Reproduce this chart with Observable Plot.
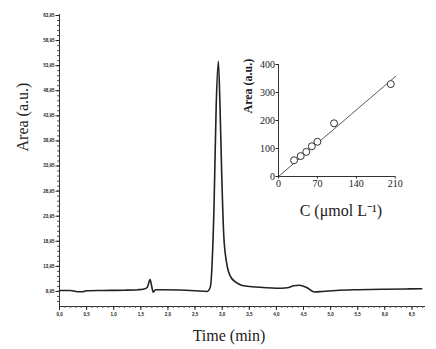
<!DOCTYPE html>
<html><head><meta charset="utf-8">
<script src="https://cdn.jsdelivr.net/npm/d3@7"></script>
<script src="https://cdn.jsdelivr.net/npm/@observablehq/plot@0.6"></script>
<style>
body{margin:0;background:#fff;}
#wrap{position:relative;width:436px;height:349px;overflow:hidden;background:#fff;}
#wrap svg{position:absolute;overflow:visible;}
</style></head><body><div id="wrap"></div>
<script>
// Chromatogram (main chart)
const time   = [0, 0.2, 0.33, 0.42, 0.5, 0.8, 1.2, 1.45, 1.56, 1.62, 1.67, 1.70, 1.73, 1.77, 1.9, 2.2, 2.5, 2.72, 2.78, 2.85, 2.89, 2.93, 2.96, 2.99, 3.03, 3.08, 3.15, 3.25, 3.37, 3.55, 3.75, 4.0, 4.2, 4.32, 4.42, 4.55, 4.7, 4.85, 5.1, 5.5, 6.0, 6.4, 6.68];
const signal = [9.15, 9.15, 8.9, 8.9, 9.1, 9.15, 9.2, 9.3, 9.45, 9.8, 11.3, 10.0, 8.8, 9.3, 9.3, 9.25, 9.1, 8.95, 9.8, 26, 46, 54.8, 46, 33, 20, 14.8, 12.0, 10.8, 10.15, 9.9, 9.75, 9.6, 9.7, 10.1, 10.2, 9.8, 8.85, 8.95, 9.15, 9.3, 9.4, 9.45, 9.5];
const xTickValues = [0, 0.5, 1, 1.5, 2, 2.5, 3, 3.5, 4, 4.5, 5, 5.5, 6, 6.5];
const yTickValues = [8.95, 13.95, 18.95, 23.95, 28.95, 33.95, 38.95, 43.95, 48.95, 53.95, 58.95, 63.95];
const mainXLabel = "Time (min)";
const mainYLabel = "Area (a.u.)";

// Calibration inset
const concentration = [28, 40, 50, 60, 70, 100, 202];
const area = [58, 73, 88, 108, 124, 190, 330];
const fitC = [0, 211];
const fitA = [0, 358];
const insetXTicks = [0, 70, 140, 210];
const insetYTicks = [0, 100, 200, 300, 400];
const insetXLabel = "C (μmol L⁻¹)";
const insetYLabel = "Area (a.u.)";

const serif = "'Liberation Serif', 'Times New Roman', serif";
const tiny = {fontSize: 4.5, fontWeight: "bold", fontFamily: "'Liberation Sans', Arial, sans-serif"};

const main = Plot.plot({
  width: 436, height: 349,
  marginLeft: 59, marginRight: 11, marginTop: 14, marginBottom: 43,
  x: {domain: [0, 6.75]},
  y: {domain: [5.95, 64.15]},
  style: {fontFamily: serif, background: "transparent", color: "#222"},
  marks: [
    Plot.ruleX([0], {stroke: "#333"}),
    Plot.ruleY([5.95], {stroke: "#333"}),
    Plot.axisY(d3.range(6.95, 64, 1), {tickSize: 2, tickFormat: () => "", label: null, stroke: "#555"}),
    Plot.axisY(yTickValues, {tickSize: 3.5, tickPadding: 1.5, tickFormat: d => d.toFixed(2).replace(".", ","), ...tiny, label: null}),
    Plot.axisX(d3.range(0, 6.75, 0.1), {tickSize: 2, tickFormat: () => "", label: null, stroke: "#555"}),
    Plot.axisX(xTickValues, {tickSize: 4, tickPadding: 2, tickFormat: d => d.toFixed(1).replace(".", ","), ...tiny, label: null}),
    Plot.text([mainYLabel], {text: d => d, frameAnchor: "left", rotate: -90, dx: -37, dy: -9, fontSize: 16}),
    Plot.text([mainXLabel], {text: d => d, frameAnchor: "bottom", dx: -13.5, dy: 34, fontSize: 16}),
    Plot.line(time, {x: time, y: signal, stroke: "#222", strokeWidth: 1.6, curve: "monotone-x"})
  ]
});
main.style.left = "0px"; main.style.top = "0px";

const inset = Plot.plot({
  width: 190, height: 180,
  marginLeft: 42, marginRight: 31.3, marginTop: 14, marginBottom: 54,
  x: {domain: [0, 210]},
  y: {domain: [0, 400]},
  style: {fontFamily: serif, background: "transparent", color: "#222"},
  marks: [
    Plot.ruleX([0], {stroke: "#333"}),
    Plot.ruleY([0], {stroke: "#333"}),
    Plot.axisX(insetXTicks, {tickSize: 2.5, tickPadding: 1, fontSize: 10, label: null}),
    Plot.axisY(insetYTicks, {tickSize: 2.5, tickPadding: 1, fontSize: 10, label: null}),
    Plot.text([insetYLabel], {text: d => d, frameAnchor: "left", rotate: -90, dx: -30, dy: -7, fontSize: 12, fontWeight: "bold"}),
    Plot.text([insetXLabel], {text: d => d, frameAnchor: "bottom", dx: 4, dy: 39, fontSize: 16}),
    Plot.line(fitC, {x: fitC, y: fitA, stroke: "#444", strokeWidth: 0.9}),
    Plot.dot(concentration, {x: concentration, y: area, r: 3.5, stroke: "#333", fill: "white", strokeWidth: 1})
  ]
});
inset.style.left = "236px"; inset.style.top = "50px";

const wrap = document.getElementById("wrap");
wrap.appendChild(main);
wrap.appendChild(inset);
</script>
</body></html>
